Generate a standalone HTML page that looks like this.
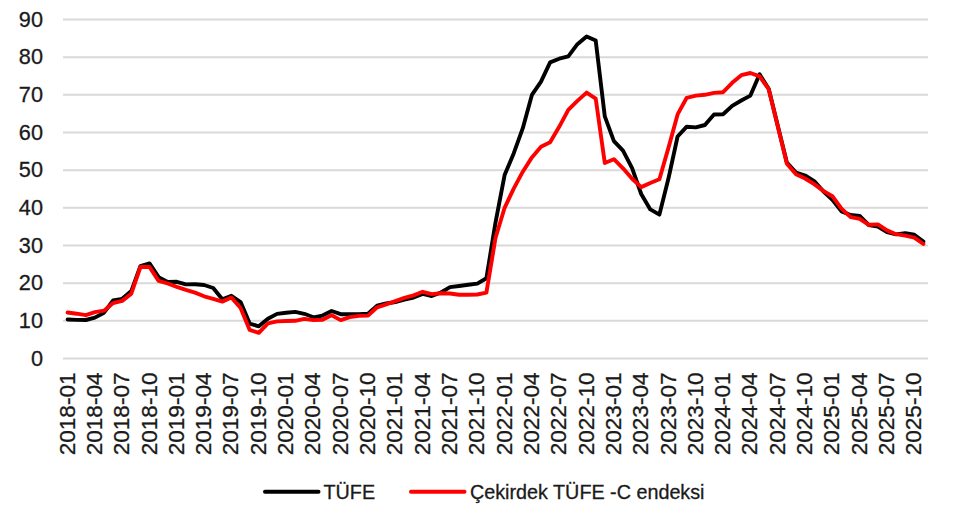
<!DOCTYPE html><html><head><meta charset="utf-8"><style>html,body{margin:0;padding:0;background:#fff;}svg{display:block;}text{font-family:"Liberation Sans",sans-serif;fill:#1a1a1a;stroke:#1a1a1a;stroke-width:0.3px;}</style></head><body>
<svg width="960" height="507" viewBox="0 0 960 507">
<rect width="960" height="507" fill="#fff"/>
<line x1="63.0" y1="358.50" x2="928.0" y2="358.50" stroke="#d9d9d9" stroke-width="2.0"/>
<line x1="63.0" y1="320.83" x2="928.0" y2="320.83" stroke="#d9d9d9" stroke-width="2.0"/>
<line x1="63.0" y1="283.17" x2="928.0" y2="283.17" stroke="#d9d9d9" stroke-width="2.0"/>
<line x1="63.0" y1="245.50" x2="928.0" y2="245.50" stroke="#d9d9d9" stroke-width="2.0"/>
<line x1="63.0" y1="207.83" x2="928.0" y2="207.83" stroke="#d9d9d9" stroke-width="2.0"/>
<line x1="63.0" y1="170.16" x2="928.0" y2="170.16" stroke="#d9d9d9" stroke-width="2.0"/>
<line x1="63.0" y1="132.50" x2="928.0" y2="132.50" stroke="#d9d9d9" stroke-width="2.0"/>
<line x1="63.0" y1="94.83" x2="928.0" y2="94.83" stroke="#d9d9d9" stroke-width="2.0"/>
<line x1="63.0" y1="57.16" x2="928.0" y2="57.16" stroke="#d9d9d9" stroke-width="2.0"/>
<line x1="63.0" y1="19.50" x2="928.0" y2="19.50" stroke="#d9d9d9" stroke-width="2.0"/>
<text transform="translate(43.0,365.50) scale(0.96,1)" font-size="22.6" text-anchor="end">0</text>
<text transform="translate(43.0,327.83) scale(0.96,1)" font-size="22.6" text-anchor="end">10</text>
<text transform="translate(43.0,290.17) scale(0.96,1)" font-size="22.6" text-anchor="end">20</text>
<text transform="translate(43.0,252.50) scale(0.96,1)" font-size="22.6" text-anchor="end">30</text>
<text transform="translate(43.0,214.83) scale(0.96,1)" font-size="22.6" text-anchor="end">40</text>
<text transform="translate(43.0,177.16) scale(0.96,1)" font-size="22.6" text-anchor="end">50</text>
<text transform="translate(43.0,139.50) scale(0.96,1)" font-size="22.6" text-anchor="end">60</text>
<text transform="translate(43.0,101.83) scale(0.96,1)" font-size="22.6" text-anchor="end">70</text>
<text transform="translate(43.0,64.16) scale(0.96,1)" font-size="22.6" text-anchor="end">80</text>
<text transform="translate(43.0,26.50) scale(0.96,1)" font-size="22.6" text-anchor="end">90</text>
<text transform="translate(74.55,372.4) rotate(-90)" font-size="22.6" text-anchor="end">2018-01</text>
<text transform="translate(101.87,372.4) rotate(-90)" font-size="22.6" text-anchor="end">2018-04</text>
<text transform="translate(129.18,372.4) rotate(-90)" font-size="22.6" text-anchor="end">2018-07</text>
<text transform="translate(156.50,372.4) rotate(-90)" font-size="22.6" text-anchor="end">2018-10</text>
<text transform="translate(183.82,372.4) rotate(-90)" font-size="22.6" text-anchor="end">2019-01</text>
<text transform="translate(211.13,372.4) rotate(-90)" font-size="22.6" text-anchor="end">2019-04</text>
<text transform="translate(238.45,372.4) rotate(-90)" font-size="22.6" text-anchor="end">2019-07</text>
<text transform="translate(265.76,372.4) rotate(-90)" font-size="22.6" text-anchor="end">2019-10</text>
<text transform="translate(293.08,372.4) rotate(-90)" font-size="22.6" text-anchor="end">2020-01</text>
<text transform="translate(320.39,372.4) rotate(-90)" font-size="22.6" text-anchor="end">2020-04</text>
<text transform="translate(347.71,372.4) rotate(-90)" font-size="22.6" text-anchor="end">2020-07</text>
<text transform="translate(375.03,372.4) rotate(-90)" font-size="22.6" text-anchor="end">2020-10</text>
<text transform="translate(402.34,372.4) rotate(-90)" font-size="22.6" text-anchor="end">2021-01</text>
<text transform="translate(429.66,372.4) rotate(-90)" font-size="22.6" text-anchor="end">2021-04</text>
<text transform="translate(456.97,372.4) rotate(-90)" font-size="22.6" text-anchor="end">2021-07</text>
<text transform="translate(484.29,372.4) rotate(-90)" font-size="22.6" text-anchor="end">2021-10</text>
<text transform="translate(511.61,372.4) rotate(-90)" font-size="22.6" text-anchor="end">2022-01</text>
<text transform="translate(538.92,372.4) rotate(-90)" font-size="22.6" text-anchor="end">2022-04</text>
<text transform="translate(566.24,372.4) rotate(-90)" font-size="22.6" text-anchor="end">2022-07</text>
<text transform="translate(593.55,372.4) rotate(-90)" font-size="22.6" text-anchor="end">2022-10</text>
<text transform="translate(620.87,372.4) rotate(-90)" font-size="22.6" text-anchor="end">2023-01</text>
<text transform="translate(648.18,372.4) rotate(-90)" font-size="22.6" text-anchor="end">2023-04</text>
<text transform="translate(675.50,372.4) rotate(-90)" font-size="22.6" text-anchor="end">2023-07</text>
<text transform="translate(702.82,372.4) rotate(-90)" font-size="22.6" text-anchor="end">2023-10</text>
<text transform="translate(730.13,372.4) rotate(-90)" font-size="22.6" text-anchor="end">2024-01</text>
<text transform="translate(757.45,372.4) rotate(-90)" font-size="22.6" text-anchor="end">2024-04</text>
<text transform="translate(784.76,372.4) rotate(-90)" font-size="22.6" text-anchor="end">2024-07</text>
<text transform="translate(812.08,372.4) rotate(-90)" font-size="22.6" text-anchor="end">2024-10</text>
<text transform="translate(839.39,372.4) rotate(-90)" font-size="22.6" text-anchor="end">2025-01</text>
<text transform="translate(866.71,372.4) rotate(-90)" font-size="22.6" text-anchor="end">2025-04</text>
<text transform="translate(894.03,372.4) rotate(-90)" font-size="22.6" text-anchor="end">2025-07</text>
<text transform="translate(921.34,372.4) rotate(-90)" font-size="22.6" text-anchor="end">2025-10</text>
<polyline points="67.6,319.5 76.7,319.9 85.8,320.0 94.9,317.6 104.0,312.7 113.1,300.5 122.2,298.8 131.3,291.1 140.4,266.1 149.5,263.4 158.6,277.1 167.7,282.0 176.8,281.8 185.9,284.4 195.0,284.3 204.1,285.0 213.2,288.0 222.3,299.3 231.4,295.8 240.6,302.0 249.7,323.6 258.8,326.3 267.9,318.7 277.0,313.9 286.1,312.7 295.2,311.9 304.3,313.8 313.4,317.3 322.5,315.6 331.6,311.0 340.7,314.2 349.8,314.2 358.9,314.2 368.0,313.7 377.1,305.7 386.2,303.5 395.3,302.1 404.4,299.7 413.6,297.5 422.7,293.9 431.8,296.0 440.9,292.5 450.0,287.1 459.1,286.0 468.2,284.7 477.3,283.6 486.4,278.2 495.5,222.6 504.6,175.1 513.7,153.4 522.8,128.2 531.9,94.9 541.0,81.6 550.1,62.4 559.2,58.7 568.3,56.4 577.4,44.2 586.6,36.4 595.7,40.6 604.8,116.4 613.9,141.2 623.0,150.7 632.1,168.2 641.2,194.0 650.3,209.4 659.4,214.6 668.5,178.3 677.6,136.5 686.7,126.7 695.8,127.4 704.9,125.0 714.0,114.5 723.1,114.2 732.2,105.9 741.3,100.5 750.4,95.6 759.6,74.3 768.7,88.8 777.8,125.8 786.9,162.7 796.0,172.5 805.1,175.5 814.2,181.1 823.3,191.3 832.4,199.8 841.5,211.4 850.6,215.0 859.7,215.9 868.8,225.1 877.9,226.5 887.0,232.2 896.1,234.4 905.2,233.1 914.3,234.7 923.4,241.5" fill="none" stroke="#000" stroke-width="3.9" stroke-linejoin="round" stroke-linecap="round"/>
<polyline points="67.6,312.5 76.7,313.7 85.8,315.2 94.9,312.2 104.0,310.7 113.1,303.1 122.2,300.9 131.3,293.7 140.4,267.0 149.5,267.0 158.6,280.9 167.7,283.5 176.8,286.9 185.9,289.9 195.0,292.6 204.1,296.3 213.2,298.8 222.3,301.6 231.4,297.5 240.6,308.0 249.7,329.9 258.8,332.9 267.9,323.3 277.0,321.4 286.1,321.0 295.2,320.8 304.3,318.9 313.4,320.1 322.5,319.7 331.6,315.2 340.7,320.1 349.8,317.1 358.9,315.9 368.0,315.6 377.1,307.3 386.2,304.3 395.3,301.2 404.4,297.9 413.6,295.4 422.7,291.8 431.8,294.1 440.9,293.3 450.0,293.5 459.1,294.8 468.2,294.8 477.3,294.5 486.4,292.6 495.5,238.0 504.6,207.8 513.7,188.6 522.8,171.7 531.9,157.4 541.0,146.8 550.1,142.3 559.2,126.8 568.3,109.9 577.4,100.9 586.6,92.6 595.7,98.6 604.8,163.0 613.9,159.2 623.0,168.3 632.1,178.8 641.2,187.1 650.3,183.0 659.4,179.2 668.5,147.6 677.6,114.4 686.7,97.8 695.8,95.6 704.9,94.8 714.0,92.9 723.1,92.2 732.2,82.8 741.3,75.2 750.4,73.0 759.6,76.4 768.7,89.2 777.8,126.5 786.9,163.8 796.0,174.3 805.1,178.5 814.2,184.1 823.3,190.9 832.4,196.2 841.5,208.6 850.6,217.2 859.7,218.8 868.8,224.8 877.9,224.4 887.0,230.4 896.1,234.2 905.2,235.7 914.3,237.6 923.4,244.0" fill="none" stroke="#f00" stroke-width="3.9" stroke-linejoin="round" stroke-linecap="round"/>
<line x1="265" y1="491.7" x2="318.5" y2="491.7" stroke="#000" stroke-width="4" stroke-linecap="round"/>
<text x="323.5" y="498.5" font-size="19.75">TÜFE</text>
<line x1="411" y1="491.7" x2="464.5" y2="491.7" stroke="#f00" stroke-width="4" stroke-linecap="round"/>
<text x="470" y="498.5" font-size="19.75">Çekirdek TÜFE -C endeksi</text>
</svg></body></html>
